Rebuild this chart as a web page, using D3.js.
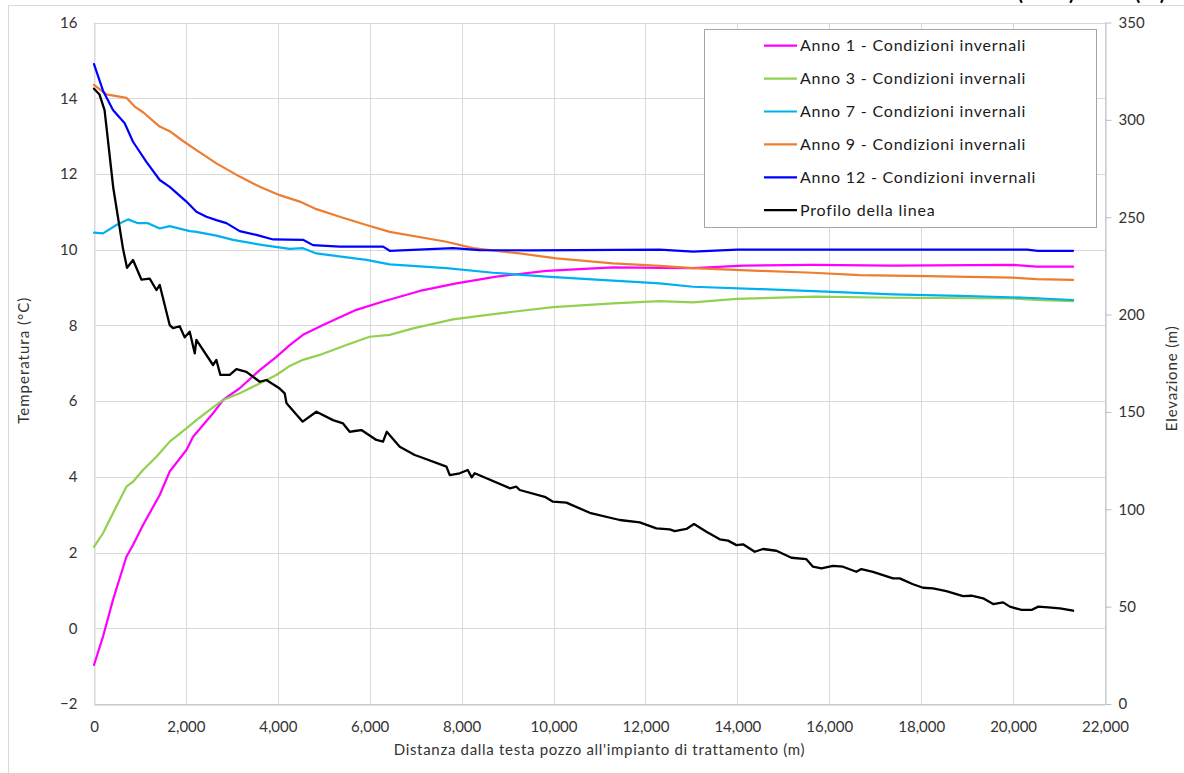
<!DOCTYPE html>
<html>
<head>
<meta charset="utf-8">
<script src="https://cdn.jsdelivr.net/npm/d3@7"></script>
<style>
  html, body { margin: 0; padding: 0; background: #ffffff; }
  svg { display: block; }
  text { font-family: Lato, "Open Sans", "Noto Sans", sans-serif; }
</style>
</head>
<body>
<svg id="chart" width="1184" height="773"></svg>
<script>
// Distanza (m) e temperatura (°C) per ciascuno scenario invernale
const anno1 = [[0,-0.97],[196,-0.22],[413,0.75],[705,1.89],[849,2.20],[1067,2.73],[1430,3.52],[1647,4.14],[2011,4.71],[2156,5.06],[2591,5.68],[2808,6.03],[3171,6.34],[3607,6.82],[3969,7.17],[4259,7.48],[4548,7.75],[4984,8.01],[5710,8.41],[6290,8.63],[7088,8.91],[7886,9.11],[8758,9.29],[9845,9.44],[11295,9.53],[12310,9.52],[13035,9.51],[14123,9.58],[15646,9.60],[17387,9.58],[20000,9.60],[20508,9.55],[21306,9.55]];
const anno3 = [[0,2.15],[196,2.51],[413,3.04],[705,3.74],[849,3.87],[1067,4.18],[1358,4.53],[1647,4.93],[2011,5.28],[2228,5.50],[2518,5.77],[2808,6.03],[3171,6.21],[3679,6.51],[3969,6.69],[4259,6.93],[4548,7.09],[4911,7.22],[5492,7.48],[5999,7.70],[6435,7.75],[6943,7.92],[7813,8.16],[8394,8.25],[9119,8.36],[9989,8.48],[11295,8.58],[12310,8.64],[13035,8.61],[13979,8.70],[15720,8.76],[17387,8.73],[20000,8.71],[20508,8.67],[21306,8.64]];
const anno7 = [[0,10.45],[196,10.43],[487,10.65],[741,10.80],[958,10.70],[1175,10.70],[1430,10.56],[1647,10.62],[2083,10.49],[2228,10.47],[2663,10.37],[3026,10.26],[3679,10.12],[4259,10.02],[4548,10.04],[4840,9.90],[5419,9.81],[5928,9.73],[6435,9.61],[7669,9.51],[8684,9.39],[9845,9.29],[11295,9.18],[12310,9.11],[13035,9.02],[14485,8.96],[15936,8.89],[17387,8.82],[18838,8.78],[20290,8.73],[21306,8.67]];
const anno9 = [[0,14.35],[270,14.10],[705,14.01],[886,13.78],[1067,13.63],[1430,13.25],[1647,13.13],[1937,12.87],[2228,12.63],[2663,12.28],[3171,11.93],[3607,11.66],[4041,11.44],[4477,11.27],[4840,11.07],[5347,10.87],[5928,10.65],[6435,10.47],[7669,10.21],[8249,10.04],[8758,9.97],[9264,9.90],[10063,9.77],[11295,9.64],[12310,9.57],[13035,9.51],[14485,9.44],[15646,9.39],[16664,9.33],[18115,9.30],[20000,9.26],[20508,9.22],[21306,9.20]];
const anno12 = [[0,14.90],[196,14.20],[413,13.69],[668,13.34],[849,12.85],[1140,12.32],[1430,11.84],[1647,11.66],[2011,11.27],[2228,11.00],[2446,10.87],[2663,10.78],[2881,10.70],[3171,10.49],[3534,10.39],[3896,10.27],[4548,10.26],[4766,10.12],[5347,10.08],[6290,10.08],[6435,9.97],[7813,10.04],[8394,9.99],[9500,9.98],[12310,10.00],[13035,9.95],[14000,10.00],[17000,10.00],[20300,10.00],[20540,9.97],[21306,9.97]];

// Profilo altimetrico della linea: distanza (m), elevazione (m)
const profilo = [[0,316],[120,313],[230,305],[420,265],[630,234],[718,224],[849,228],[1031,218],[1212,218.5],[1358,212.6],[1430,215.2],[1647,194.6],[1719,193],[1865,194],[1974,188.3],[2083,191.2],[2192,180.1],[2228,187],[2590,174.1],[2663,176.7],[2750,169],[2953,169],[3099,172],[3317,170.6],[3607,165.5],[3752,166.4],[4041,162],[4150,159.5],[4190,154.4],[4541,145],[4839,150.1],[5201,145.8],[5419,144.1],[5564,139.8],[5673,140.2],[5819,140.7],[6145,135.6],[6290,134.7],[6370,139.8],[6653,132.1],[6980,127.9],[7088,127],[7669,121.9],[7741,117.6],[7959,118.5],[8133,120.2],[8220,116.4],[8285,118.5],[9047,110.8],[9192,111.6],[9264,109.9],[9808,106.4],[9989,103.9],[10280,103.4],[10787,98.2],[11440,94.5],[11876,93.3],[12238,90.2],[12528,89.7],[12637,88.8],[12891,89.9],[13057,92.4],[13327,88.5],[13617,84.6],[13797,83.9],[13979,81.6],[14123,82],[14378,78.2],[14558,79.6],[14849,78.7],[15176,75.1],[15502,74.4],[15646,70.5],[15828,69.7],[16081,70.9],[16298,70.5],[16589,67.9],[16698,69.3],[16951,67.9],[17387,64.5],[17532,64.5],[17822,61.5],[18040,59.7],[18258,59.4],[18548,58],[18911,55.4],[19094,55.6],[19348,54.3],[19566,51.3],[19783,52.2],[19929,50],[20184,48.3],[20402,48.3],[20547,50],[20765,49.6],[21019,49.1],[21306,47.9]];

// Etichette e valori degli assi
const tempTicks = [-2, 0, 2, 4, 6, 8, 10, 12, 14, 16];
const elevTicks = [0, 50, 100, 150, 200, 250, 300, 350];
const distTicks = [0, 2000, 4000, 6000, 8000, 10000, 12000, 14000, 16000, 18000, 20000, 22000];

const seriesNames = ["Anno 1 - Condizioni invernali", "Anno 3 - Condizioni invernali", "Anno 7 - Condizioni invernali", "Anno 9 - Condizioni invernali", "Anno 12 - Condizioni invernali", "Profilo della linea"];
const seriesColors = ["#ff00ff", "#92d050", "#00b0f0", "#ed7d31", "#0000ff", "#000000"];

const svg = d3.select("#chart");

// cornice esterna dell'area grafico
svg.append("rect")
  .attr("x", 8.5).attr("y", 5.5).attr("width", 1200).attr("height", 800)
  .attr("fill", "#ffffff").attr("stroke", "#d9d9d9").attr("stroke-width", 1);

// intestazione della pagina, tagliata dal bordo superiore
const head = svg.append("g")
  .style("font-family", "'Liberation Serif', serif").style("font-weight", "bold").style("font-size", "20px");
head.append("text").attr("x", 1046).attr("y", -0.5).attr("text-anchor", "middle").attr("fill", "#000").text("(Stato)");
head.append("text").attr("x", 1150).attr("y", -0.5).attr("text-anchor", "middle").attr("fill", "#000").text("(kJ)");

const x = d3.scaleLinear().domain([0, 22000]).range([94, 1105]);
const yT = d3.scaleLinear().domain([-2, 16]).range([704, 22.5]);
const yE = d3.scaleLinear().domain([0, 350]).range([704, 22.5]);

const grid = svg.append("g");
grid.selectAll("line.h").data(tempTicks).join("line")
  .attr("x1", x(0)).attr("x2", x(22000))
  .attr("y1", d => Math.round(yT(d)) + 0.5).attr("y2", d => Math.round(yT(d)) + 0.5)
  .attr("stroke", "#d9d9d9").attr("stroke-width", 1);
grid.selectAll("line.v").data(distTicks).join("line")
  .attr("x1", d => Math.round(x(d)) + 0.5).attr("x2", d => Math.round(x(d)) + 0.5)
  .attr("y1", yT(16)).attr("y2", yT(-2))
  .attr("stroke", "#d9d9d9").attr("stroke-width", 1);

const tickFont = sel => sel.attr("fill", "#333").style("font-size", "15px").style("font-family", "Lato, sans-serif");

// asse inferiore (distanza)
const xAxis = svg.append("g")
  .attr("transform", `translate(0,${Math.round(yT(-2)) + 0.5})`)
  .call(d3.axisBottom(x).tickValues(distTicks).tickSize(0).tickPadding(17)
    .tickFormat(d3.format(",")));
xAxis.select(".domain").attr("stroke", "#bfbfbf");
xAxis.selectAll("text").call(tickFont);

// asse sinistro (temperatura)
const yAxisL = svg.append("g")
  .attr("transform", `translate(${Math.round(x(0)) + 0.5},0)`)
  .call(d3.axisLeft(yT).tickValues(tempTicks).tickSize(0).tickPadding(17));
yAxisL.select(".domain").attr("stroke", "#d9d9d9");
yAxisL.selectAll("text").call(tickFont);

// asse destro (elevazione)
const yAxisR = svg.append("g")
  .attr("transform", `translate(${Math.round(x(22000)) + 0.5},0)`)
  .call(d3.axisRight(yE).tickValues(elevTicks).tickSize(6).tickSizeOuter(0).tickPadding(7));
yAxisR.select(".domain").attr("stroke", "#bfbfbf");
yAxisR.selectAll(".tick line").attr("stroke", "#bfbfbf");
yAxisR.selectAll("text").call(tickFont);

// titoli degli assi
svg.append("text")
  .attr("x", (x(0) + x(22000)) / 2).attr("y", 755).attr("text-anchor", "middle")
  .attr("fill", "#333").style("font-size", "15px").style("letter-spacing", "0.7px")
  .text("Distanza dalla testa pozzo all'impianto di trattamento (m)");
svg.append("text")
  .attr("transform", `translate(29,${(yT(16) + yT(-2)) / 2 - 3}) rotate(-90)`)
  .attr("text-anchor", "middle").attr("fill", "#333").style("font-size", "15px").style("letter-spacing", "1px")
  .text("Temperatura (°C)");
svg.append("text")
  .attr("transform", `translate(1177,${(yT(16) + yT(-2)) / 2 + 15}) rotate(-90)`)
  .attr("text-anchor", "middle").attr("fill", "#333").style("font-size", "15px").style("letter-spacing", "0.85px")
  .text("Elevazione (m)");

// curve di temperatura (asse sinistro) e profilo (asse destro)
const lineT = d3.line().x(d => x(d[0])).y(d => yT(d[1]));
const lineE = d3.line().x(d => x(d[0])).y(d => yE(d[1]));

const tempSeries = [anno1, anno3, anno7, anno9, anno12];
const plot = svg.append("g");
tempSeries.forEach((s, i) => {
  plot.append("path").datum(s)
    .attr("d", lineT)
    .attr("fill", "none").attr("stroke", seriesColors[i])
    .attr("stroke-width", 2.2).attr("stroke-linejoin", "round").attr("stroke-linecap", "round");
});
plot.append("path").datum(profilo)
  .attr("d", lineE)
  .attr("fill", "none").attr("stroke", seriesColors[5])
  .attr("stroke-width", 2.3).attr("stroke-linejoin", "round").attr("stroke-linecap", "round");

// legenda
const legend = svg.append("g");
legend.append("rect")
  .attr("x", 704.5).attr("y", 29.5).attr("width", 392).attr("height", 198)
  .attr("fill", "#ffffff").attr("stroke", "#a6a6a6").attr("stroke-width", 1);
const items = legend.selectAll("g.item").data(seriesNames).join("g")
  .attr("transform", (d, i) => `translate(0,${45.7 + i * 32.9})`);
items.append("line")
  .attr("x1", 764).attr("x2", 797).attr("y1", 0).attr("y2", 0)
  .attr("stroke", (d, i) => seriesColors[i]).attr("stroke-width", 2.2);
items.append("text")
  .attr("x", 800).attr("y", 0).attr("dy", "0.35em")
  .attr("fill", "#1a1a1a").style("font-size", "16px").style("letter-spacing", "0.8px")
  .text(d => d);
</script>
</body>
</html>
